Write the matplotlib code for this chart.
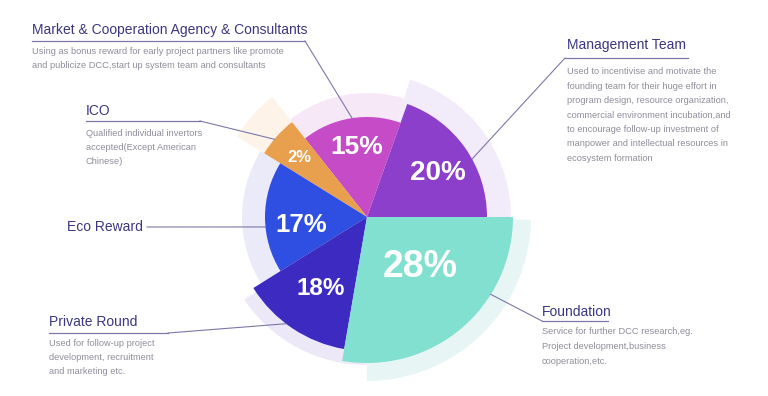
import matplotlib
matplotlib.use("Agg")
import matplotlib.pyplot as plt
import numpy as np

plt.rcParams['font.family'] = ['Liberation Sans', 'DejaVu Sans']

# slices, counter-clockwise from east
names = ["Management Team", "Market & Cooperation Agency & Consultants", "ICO",
         "Eco Reward", "Private Round", "Foundation"]
shares = [20, 15, 2, 17, 18, 28]
# angular size of each slice as drawn in the picture (degrees)
sweeps = [70.4, 57.9, 19.9, 63.8, 48.2, 99.8]
notes = [
    ["Used to incentivise and motivate the",
     "founding team for their huge effort in",
     "program design, resource organization,",
     "commercial environment incubation,and",
     "to encourage follow-up investment of",
     "manpower and intellectual resources in",
     "ecosystem formation"],
    ["Using as bonus reward for early project partners like promote",
     "and publicize DCC,start up system team and consultants"],
    ["Qualified individual invertors",
     "accepted(Except American",
     "Chinese)"],
    [],
    ["Used for follow-up project",
     "development, recruitment",
     "and marketing etc."],
    ["Service for further DCC research,eg.",
     "Project development,business",
     "cooperation,etc."],
]

# styling
colors = ["#8c3fca", "#c54bc7", "#e9a04e", "#2e4fe2", "#3d2bc1", "#81e0cf"]
back_colors = ["#f2ebf9", "#f7e8f7", "#fdf3e9", "#eaeaf9", "#ece8f8", "#e7f6f4"]
radii = [120, 100, 121, 102, 134, 146]
back_radii = [144, 124, 153, 125, 148, 164]
back_spans = [(0, 72.6), (72.6, 128.3), (128.3, 148.2), (148.2, 214), (214, 270), (270, 359)]
pct_pos = [(32, 83), (98, 71), (139, 90), (187, 66), (237, 85), (316.7, 73)]
pct_size = [20, 19, 12, 18.5, 17.5, 27]
anchor_ang = [28.9, 98.6, 140, 185.6, 232.8, -32]
# title x, title y, underline (x0, x1, y) or None, joint point, desc first y, step
layout = [
    (567, 45, (565, 688, 58), (565, 58), 72, 14.4),
    (32, 30, (32, 305, 41), (305, 41), 52, 14),
    (86, 111, (86, 200, 121), (200, 121), 133, 14),
    (67, 227, None, (147, 227), 0, 0),
    (49, 322, (49, 168, 333), (168, 333), 343, 14.5),
    (542, 312, (542, 608, 321), (542, 321), 332, 14.5),
]
title_color = "#3b3680"
desc_color = "#8e8e9c"
line_color = "#7b78a8"

W, H = 768, 396
fig = plt.figure(figsize=(W / 100, H / 100), dpi=100)
fig.patch.set_facecolor("white")

cx, cy, R = 367, 217, 170
pax = fig.add_axes([(cx - R) / W, (H - cy - R) / H, 2 * R / W, 2 * R / H], projection="polar")
pax.set_ylim(0, R)
pax.set_axis_off()

# background wedges
for (a0, a1), rb, c in zip(back_spans, back_radii, back_colors):
    pax.bar(np.radians((a0 + a1) / 2), rb, width=np.radians(a1 - a0), bottom=0,
            color=c, edgecolor="none", zorder=1)

# main wedges
starts = np.concatenate([[0], np.cumsum(sweeps)[:-1]])
for s, sw, r, c in zip(starts, sweeps, radii, colors):
    pax.bar(np.radians(s + sw / 2), r, width=np.radians(sw), bottom=0,
            color=c, edgecolor="none", zorder=2)

for v, (a, r), fs in zip(shares, pct_pos, pct_size):
    pax.text(np.radians(a), r, f"{v}%", color="white", fontsize=fs, fontweight="bold",
             ha="center", va="center", zorder=5)

# overlay in pixel coordinates for the callouts
ox = fig.add_axes([0, 0, 1, 1], zorder=10)
ox.set_xlim(0, W)
ox.set_ylim(H, 0)
ox.set_axis_off()
ox.patch.set_alpha(0)

for name, desc, ang, r, lay in zip(names, notes, anchor_ang, radii, layout):
    tx, ty, ul, joint, dy0, step = lay
    ax_px = cx + r * np.cos(np.radians(ang))
    ay_px = cy - r * np.sin(np.radians(ang))
    ox.plot([joint[0], ax_px], [joint[1], ay_px], color=line_color, lw=0.8)
    if ul:
        ox.plot([ul[0], ul[1]], [ul[2], ul[2]], color=line_color, lw=0.9)
    ox.text(tx, ty, name, color=title_color, fontsize=10, ha="left", va="center")
    for i, line in enumerate(desc):
        ox.text(tx, dy0 + i * step, line, color=desc_color, fontsize=6.7,
                ha="left", va="center")

fig.savefig("out.png", dpi=100)
